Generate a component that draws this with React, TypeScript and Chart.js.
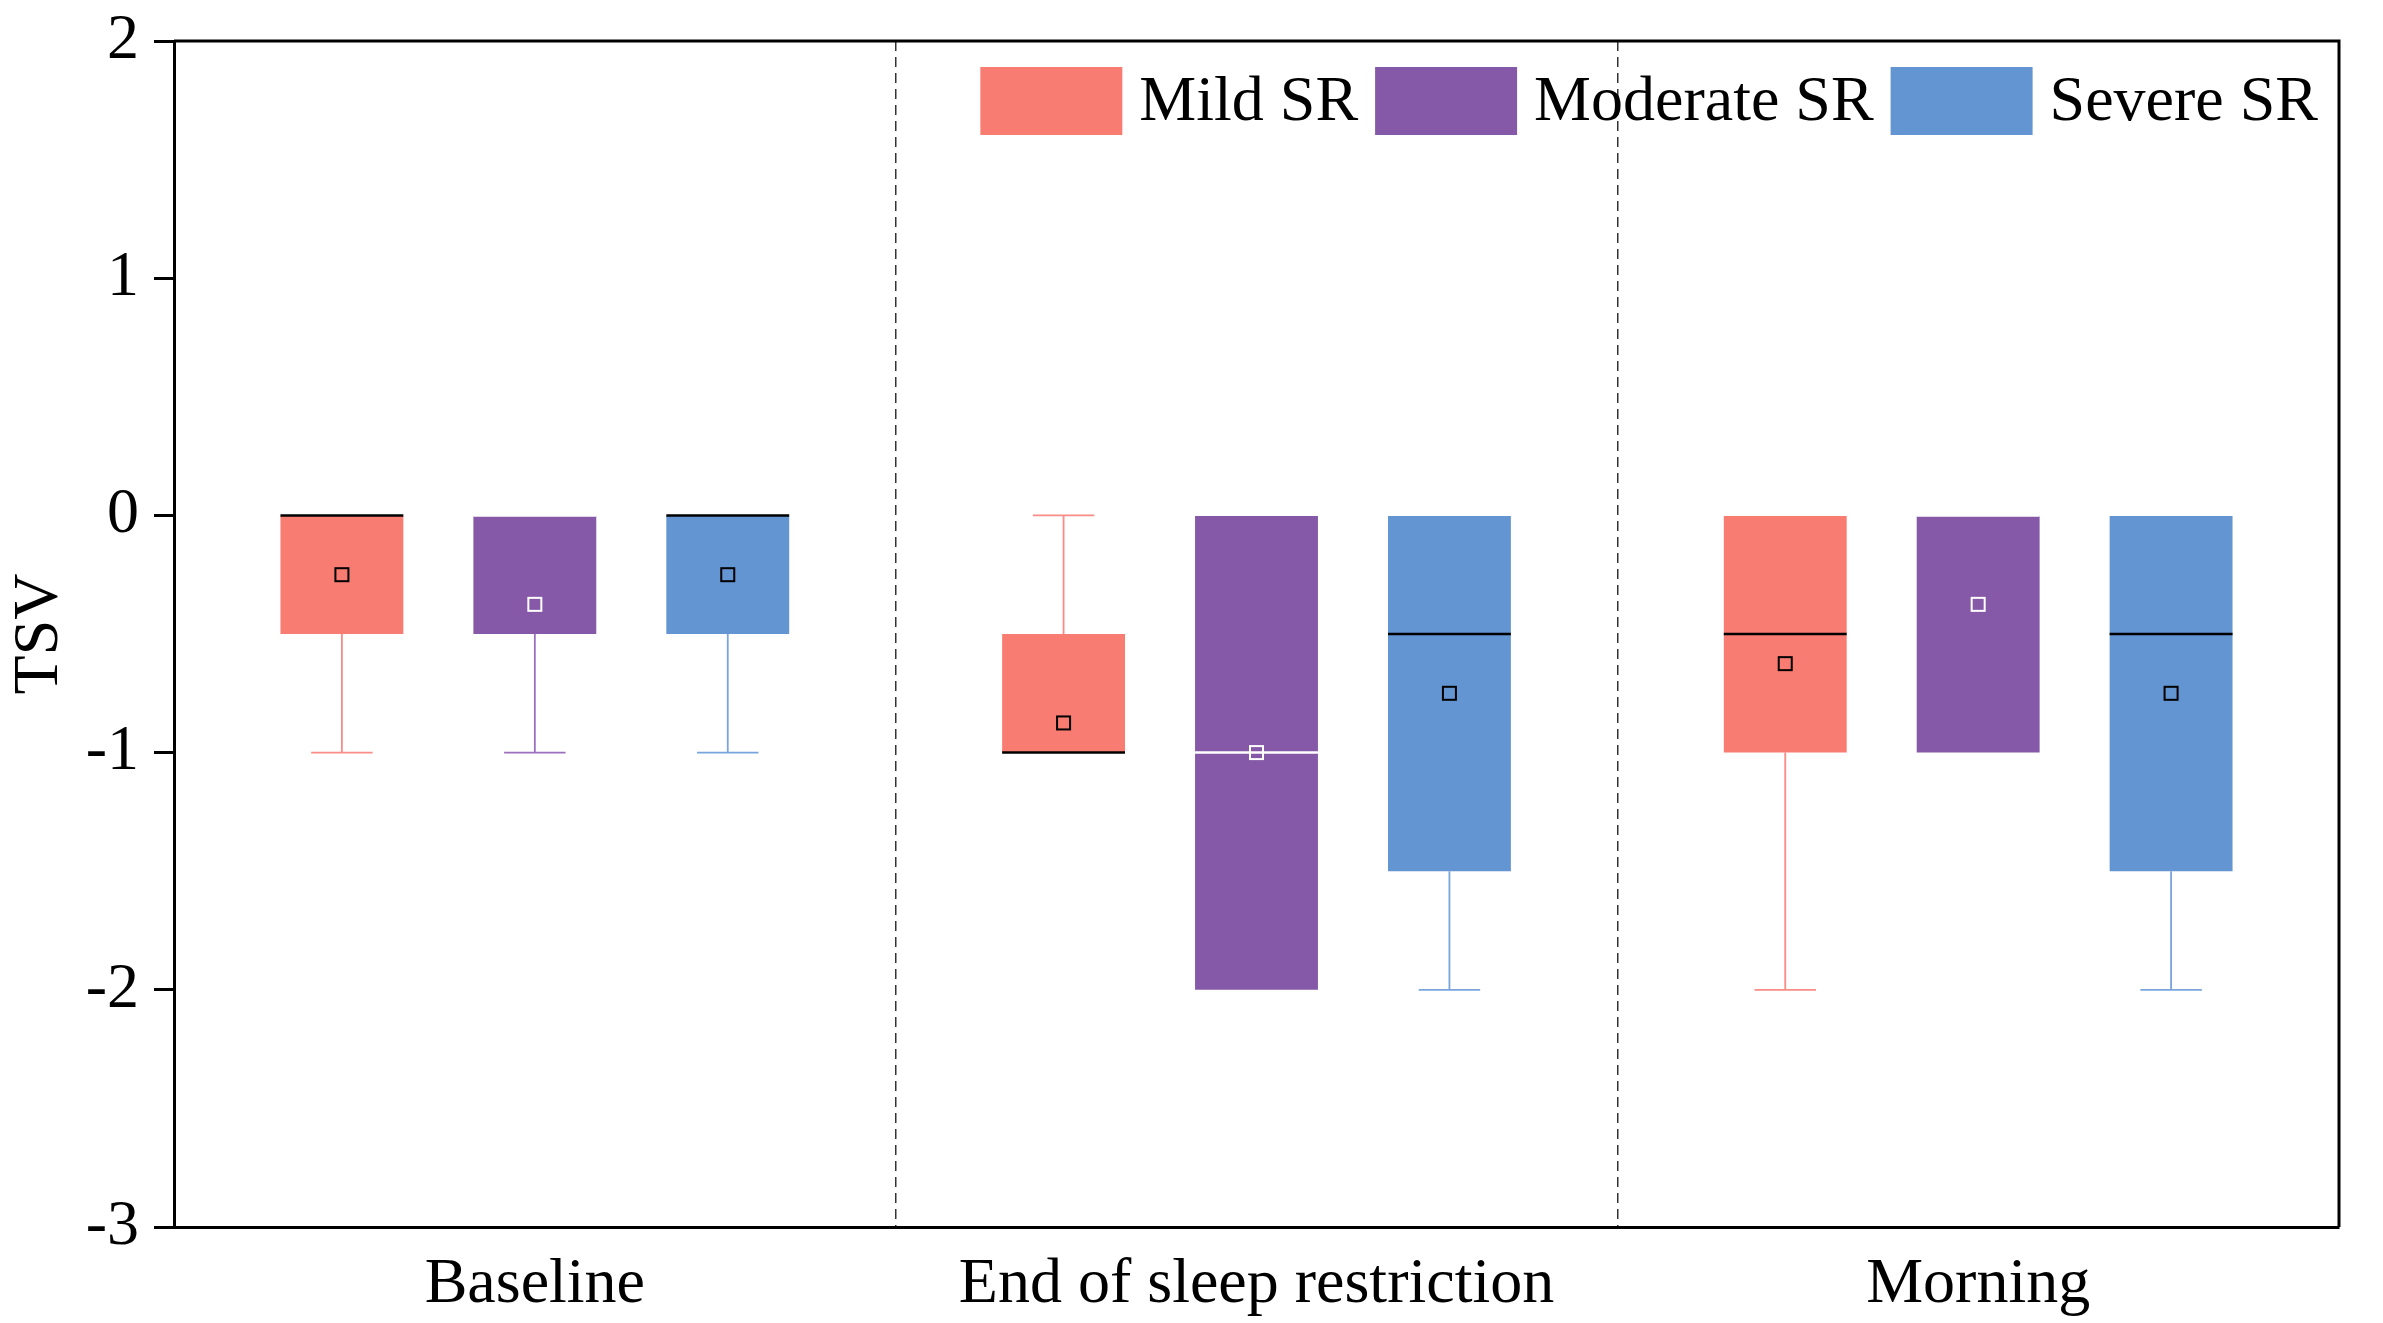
import React, { useEffect, useRef } from 'react';
import { Chart, registerables } from 'chart.js';

Chart.register(...registerables);

// categories and series
const categories = ['Baseline', 'End of sleep restriction', 'Morning'];
const seriesNames = ['Mild SR', 'Moderate SR', 'Severe SR'];
const seriesColors = ['#F97C72', '#8559A7', '#6395D2'];
const whiskerColors = ['#F98C86', '#9A70BE', '#79A5DE'];
const markColors = ['#000000', '#FFFFFF', '#000000'];

// box stats per series, one value per category
const q1Mild = [-0.5, -1, -1];
const q3Mild = [0, -0.5, 0];
const medianMild = [0, -1, -0.5];
const minMild = [-1, -1, -2];
const maxMild = [0, 0, 0];
const meanMild = [-0.25, -0.875, -0.625];

const q1Moderate = [-0.5, -2, -1];
const q3Moderate = [0, 0, 0];
const medianModerate = [0, -1, 0];
const minModerate = [-1, -2, -1];
const maxModerate = [0, 0, 0];
const meanModerate = [-0.375, -1, -0.375];

const q1Severe = [-0.5, -1.5, -1.5];
const q3Severe = [0, 0, 0];
const medianSevere = [0, -0.5, -0.5];
const minSevere = [-1, -2, -2];
const maxSevere = [0, 0, 0];
const meanSevere = [-0.25, -0.75, -0.75];

const yTicks = [2, 1, 0, -1, -2, -3];

const stats = [
  { q1: q1Mild, q3: q3Mild, med: medianMild, min: minMild, max: maxMild, mean: meanMild },
  { q1: q1Moderate, q3: q3Moderate, med: medianModerate, min: minModerate, max: maxModerate, mean: meanModerate },
  { q1: q1Severe, q3: q3Severe, med: medianSevere, min: minSevere, max: maxSevere, mean: meanSevere },
];

const FONT = '"Liberation Serif", "Times New Roman", serif';

const boxExtras = {
  id: 'boxExtras',
  afterDatasetsDraw(chart: any) {
    const { ctx } = chart;
    const y = chart.scales.y;
    stats.forEach((s, i) => {
      const meta = chart.getDatasetMeta(i);
      meta.data.forEach((bar: any, j: number) => {
        const { x, width } = bar.getProps(['x', 'width'], true);
        const top = y.getPixelForValue(s.q3[j]);
        const bottom = y.getPixelForValue(s.q1[j]);
        ctx.save();
        // whiskers
        ctx.strokeStyle = whiskerColors[i];
        ctx.lineWidth = 1.8;
        const cap = width / 4;
        if (s.max[j] > s.q3[j]) {
          const py = y.getPixelForValue(s.max[j]);
          ctx.beginPath();
          ctx.moveTo(x, top);
          ctx.lineTo(x, py);
          ctx.moveTo(x - cap, py);
          ctx.lineTo(x + cap, py);
          ctx.stroke();
        }
        if (s.min[j] < s.q1[j]) {
          const py = y.getPixelForValue(s.min[j]);
          ctx.beginPath();
          ctx.moveTo(x, bottom);
          ctx.lineTo(x, py);
          ctx.moveTo(x - cap, py);
          ctx.lineTo(x + cap, py);
          ctx.stroke();
        }
        // median
        const pm = y.getPixelForValue(s.med[j]);
        ctx.strokeStyle = markColors[i];
        ctx.lineWidth = 2.5;
        ctx.beginPath();
        ctx.moveTo(x - width / 2, pm);
        ctx.lineTo(x + width / 2, pm);
        ctx.stroke();
        // mean
        const pmean = y.getPixelForValue(s.mean[j]);
        ctx.lineWidth = 2;
        ctx.strokeRect(x - 6.5, pmean - 6.5, 13, 13);
        ctx.restore();
      });
    });
  },
  afterDraw(chart: any) {
    const { ctx, chartArea } = chart;
    ctx.save();
    // frame top and right
    ctx.strokeStyle = '#000';
    ctx.lineWidth = 3;
    ctx.beginPath();
    ctx.moveTo(chartArea.left, chartArea.top);
    ctx.lineTo(chartArea.right, chartArea.top);
    ctx.lineTo(chartArea.right, chartArea.bottom);
    ctx.stroke();

    // legend inside, top right
    ctx.font = `64px ${FONT}`;
    ctx.textBaseline = 'middle';
    ctx.textAlign = 'left';
    const boxW = 142;
    const boxH = 68;
    const gapText = 17;
    const gapItem = 17;
    const widths = seriesNames.map((n) => ctx.measureText(n).width);
    let total = 0;
    widths.forEach((w, i) => {
      total += boxW + gapText + w + (i < widths.length - 1 ? gapItem : 0);
    });
    let cx = chartArea.right - 21 - total;
    const cy = chartArea.top + 26;
    seriesNames.forEach((n, i) => {
      ctx.fillStyle = seriesColors[i];
      ctx.fillRect(cx, cy, boxW, boxH);
      ctx.fillStyle = '#000';
      ctx.fillText(n, cx + boxW + gapText, cy + boxH / 2 + 2);
      cx += boxW + gapText + widths[i] + gapItem;
    });
    ctx.restore();
  },
};

const App: React.FC = () => {
  const canvasRef = useRef<HTMLCanvasElement | null>(null);
  const chartRef = useRef<Chart | null>(null);

  useEffect(() => {
    if (!canvasRef.current) return;
    chartRef.current?.destroy();

    chartRef.current = new Chart(canvasRef.current, {
      type: 'bar',
      data: {
        labels: categories,
        datasets: seriesNames.map((name, i) => ({
          label: name,
          data: stats[i].q1.map((v, j) => [v, stats[i].q3[j]]) as any,
          backgroundColor: seriesColors[i],
          borderWidth: 0,
          barPercentage: 0.637,
          categoryPercentage: 0.802,
        })),
      },
      options: {
        animation: false,
        responsive: true,
        maintainAspectRatio: false,
        layout: { padding: { left: 0, top: 41, right: 44, bottom: 0 } },
        plugins: {
          legend: { display: false },
          tooltip: { enabled: false },
        },
        scales: {
          x: {
            type: 'category',
            offset: true,
            grid: {
              display: true,
              offset: true,
              drawTicks: false,
              drawOnChartArea: true,
              color: '#333',
              lineWidth: 1.5,
            },
            border: { display: true, color: '#000', width: 3, dash: [10, 6] },
            ticks: {
              color: '#000',
              padding: 20,
              font: { family: FONT, size: 64 },
            },
            afterFit: (scale: any) => {
              scale.height = 96;
            },
          },
          y: {
            min: -3,
            max: 2,
            afterBuildTicks: (scale: any) => {
              scale.ticks = yTicks.map((v) => ({ value: v }));
            },
            grid: {
              drawOnChartArea: false,
              drawTicks: true,
              tickLength: 20,
              tickWidth: 3,
              tickColor: '#000',
            },
            border: { display: true, color: '#000', width: 3 },
            ticks: {
              color: '#000',
              padding: 15,
              font: { family: FONT, size: 64 },
            },
            title: {
              display: true,
              text: 'TSV',
              color: '#000',
              padding: { top: 2, bottom: 0 },
              font: { family: FONT, size: 64 },
            },
            afterFit: (scale: any) => {
              scale.width = 174;
              scale.paddingTop = 0;
              scale.paddingBottom = 0;
            },
          },
        },
      },
      plugins: [boxExtras],
    });

    return () => {
      chartRef.current?.destroy();
      chartRef.current = null;
    };
  }, []);

  return (
    <div style={{ position: 'fixed', left: 0, top: 0, width: 2383, height: 1323, background: '#fff' }}>
      <canvas ref={canvasRef}></canvas>
    </div>
  );
};

export default App;
